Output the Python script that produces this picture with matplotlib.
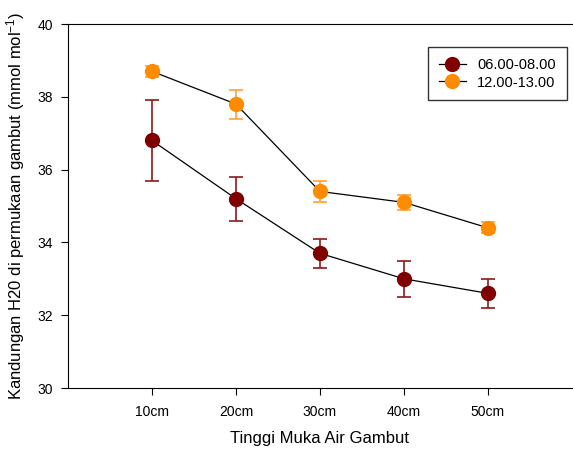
import matplotlib.pyplot as plt

plt.rcParams['font.family'] = ['Liberation Sans', 'DejaVu Sans']
plt.rcParams['mathtext.default'] = 'regular'

levels = ['10cm', '20cm', '30cm', '40cm', '50cm']
pagi = [36.8, 35.2, 33.7, 33.0, 32.6]
pagi_err = [1.1, 0.6, 0.4, 0.5, 0.4]
siang = [38.7, 37.8, 35.4, 35.1, 34.4]
siang_err = [0.15, 0.4, 0.3, 0.2, 0.15]
labels = ['06.00-08.00', '12.00-13.00']

fig = plt.figure(figsize=(5.73, 4.5), dpi=100)
ax = fig.add_axes([68 / 573, 62 / 450, 1 - 68 / 573 - 0.002, 364 / 450])

x = list(range(1, len(levels) + 1))
ax.errorbar(x, pagi, yerr=pagi_err, fmt='none', ecolor='#8b1a1a', elinewidth=1.2,
            capsize=5, capthick=1.2, zorder=2)
ax.errorbar(x, siang, yerr=siang_err, fmt='none', ecolor='#ffa040', elinewidth=1.2,
            capsize=5, capthick=1.2, zorder=2)
ax.plot(x, pagi, '-o', color='black', lw=0.9, markerfacecolor='#800000',
        markeredgecolor='#800000', markersize=10, label=labels[0], zorder=3)
ax.plot(x, siang, '-o', color='black', lw=0.9, markerfacecolor='#ff8c00',
        markeredgecolor='#ff8c00', markersize=10, label=labels[1], zorder=3)

ax.set_xlim(0, 6)
ax.set_ylim(30, 40)
ax.set_xticks(x)
ax.set_xticklabels(levels)
ax.set_yticks([30, 32, 34, 36, 38, 40])
ax.tick_params(direction='out', length=5, labelsize=10, pad=6)
ax.tick_params(axis='x', pad=7)
ax.spines['right'].set_visible(False)

ax.set_xlabel('Tinggi Muka Air Gambut', fontsize=12, labelpad=9)
ax.set_ylabel('Kandungan H20 di permukaan gambut (mmol mol$^{-1}$)', fontsize=12, labelpad=7)

leg = ax.legend(loc='upper right', bbox_to_anchor=(0.99, 0.937), fontsize=10.5,
                frameon=True, fancybox=False, edgecolor='black', borderpad=0.75,
                borderaxespad=0, handlelength=1.8, labelspacing=0.25)
leg.get_frame().set_linewidth(1.0)

fig.savefig('out.png', dpi=100)
